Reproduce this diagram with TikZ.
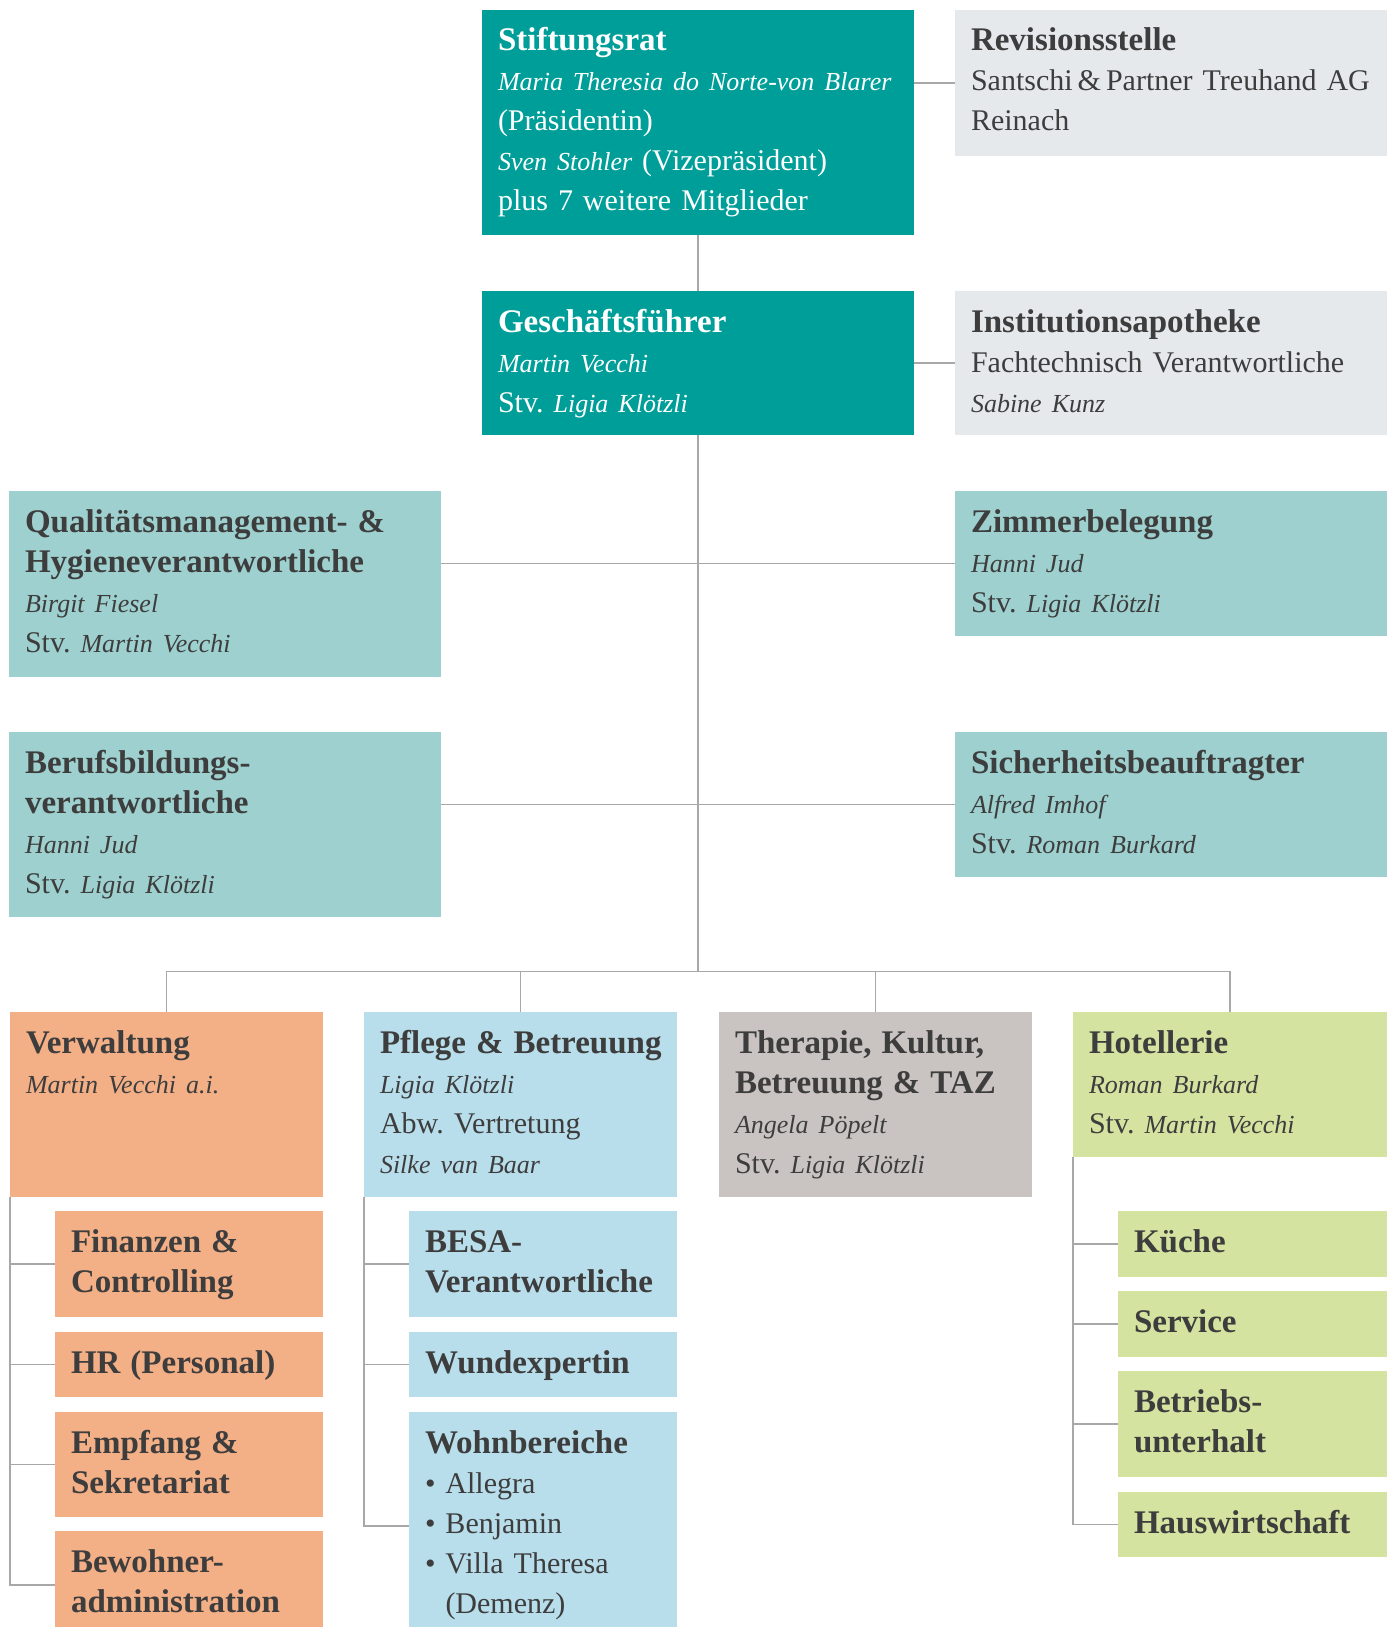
\documentclass[tikz,border=0pt]{standalone}
\usepackage{fontspec}
\setmainfont{Liberation Serif}[WordSpace=0.9]
\usepackage{tikz}

\definecolor{leitung}{HTML}{009E99}
\definecolor{extern}{HTML}{E5E9EC}
\definecolor{stab}{HTML}{9DD0CE}
\definecolor{verwcol}{HTML}{F3AF86}
\definecolor{pflcol}{HTML}{B8DDEB}
\definecolor{thercol}{HTML}{C9C4C1}
\definecolor{hotcol}{HTML}{D4E3A0}
\definecolor{ink}{HTML}{3D3D3D}
\definecolor{tiecol}{HTML}{A8A8A8}

\newcommand{\head}[1]{{\fontsize{33}{40}\selectfont\bfseries\mbox{#1}}}
\newcommand{\pers}[1]{{\fontsize{26}{40}\selectfont\itshape\mbox{#1}}}
\frenchspacing

\begin{document}
\begin{tikzpicture}
	[   x=1pt,y=-1pt,
		box/.style={anchor=north west,fill=#1,text=ink,inner xsep=16pt,inner ysep=0pt,outer sep=0pt,
			align=left,text height=41pt,font=\fontsize{30}{40}\selectfont},
	]
	\tikzset{tie line/.style={draw=tiecol,line width=1.5pt}}
	\useasboundingbox (0,0) rectangle (1395,1627);
	
	% Leitung
	\node[box=leitung,text=white,text width=400pt,text depth=184pt] (stift) at (482,10)
	{\head{Stiftungsrat}\\ \pers{Maria Theresia do Norte-von Blarer}\\ (Präsidentin)\\
		\pers{Sven Stohler} (Vizepräsident)\\ plus 7 weitere Mitglieder};
	\node[box=extern,text width=400pt,text depth=105pt] (rev) at (955,10)
	{\head{Revisionsstelle}\\ Santschi\,\&\,Partner Treuhand AG\\ Reinach};
	\node[box=leitung,text=white,text width=400pt,text depth=103pt] (gf) at (482,291)
	{\head{Geschäftsführer}\\ \pers{Martin Vecchi}\\ Stv. \pers{Ligia Klötzli}};
	\node[box=extern,text width=400pt,text depth=103pt] (apo) at (955,291)
	{\head{Institutionsapotheke}\\ Fachtechnisch Verantwortliche\\ \pers{Sabine Kunz}};
	
	% Stab
	\node[box=stab,text width=400pt,text depth=145pt] (qual) at (9,491)
	{\head{Qualitätsmanagement- \&}\\ \head{Hygieneverantwortliche}\\ \pers{Birgit Fiesel}\\ Stv. \pers{Martin Vecchi}};
	\node[box=stab,text width=400pt,text depth=104pt] (zim) at (955,491)
	{\head{Zimmerbelegung}\\ \pers{Hanni Jud}\\ Stv. \pers{Ligia Klötzli}};
	\node[box=stab,text width=400pt,text depth=144pt] (beruf) at (9,732)
	{\head{Berufsbildungs-}\\ \head{verantwortliche}\\ \pers{Hanni Jud}\\ Stv. \pers{Ligia Klötzli}};
	\node[box=stab,text width=400pt,text depth=104pt] (sich) at (955,732)
	{\head{Sicherheitsbeauftragter}\\ \pers{Alfred Imhof}\\ Stv. \pers{Roman Burkard}};
	
	% Bereiche
	\node[box=verwcol,text width=281pt,text depth=144pt] (verw) at (10,1012)
	{\head{Verwaltung}\\ \pers{Martin Vecchi a.i.}};
	\node[box=pflcol,text width=281pt,text depth=144pt] (pfl) at (364,1012)
	{\head{Pflege \& Betreuung}\\ \pers{Ligia Klötzli}\\ Abw. Vertretung\\ \pers{Silke van Baar}};
	\node[box=thercol,text width=281pt,text depth=144pt] (ther) at (719,1012)
	{\head{Therapie, Kultur,}\\ \head{Betreuung \& TAZ}\\ \pers{Angela Pöpelt}\\ Stv. \pers{Ligia Klötzli}};
	\node[box=hotcol,text width=282pt,text depth=104pt] (hotel) at (1073,1012)
	{\head{Hotellerie}\\ \pers{Roman Burkard}\\ Stv. \pers{Martin Vecchi}};
	
	% Verwaltung
	\node[box=verwcol,text width=236pt,text depth=65pt] (fin) at (55,1211) {\head{Finanzen \&}\\ \head{Controlling}};
	\node[box=verwcol,text width=236pt,text depth=24pt] (hr) at (55,1332) {\head{HR (Personal)}};
	\node[box=verwcol,text width=236pt,text depth=64pt] (emp) at (55,1412) {\head{Empfang \&}\\ \head{Sekretariat}};
	\node[box=verwcol,text width=236pt,text depth=67pt] (bew) at (55,1531) {\head{Bewohner-}\\ \head{administration}};
	
	% Pflege
	\node[box=pflcol,text width=236pt,text depth=65pt] (besa) at (409,1211) {\head{BESA-}\\ \head{Verantwortliche}};
	\node[box=pflcol,text width=236pt,text depth=24pt] (wund) at (409,1332) {\head{Wundexpertin}};
	\node[box=pflcol,text width=236pt,text depth=187pt] (wohn) at (409,1412)
	{\head{Wohnbereiche}\\ \textbullet\ Allegra\\ \textbullet\ Benjamin\\ \textbullet\ Villa Theresa\\ \phantom{\textbullet\ }(Demenz)};
	
	% Hotellerie
	\node[box=hotcol,text width=237pt,text depth=25pt] (kueche) at (1118,1211) {\head{Küche}};
	\node[box=hotcol,text width=237pt,text depth=25pt] (serv) at (1118,1291) {\head{Service}};
	\node[box=hotcol,text width=237pt,text depth=65pt] (betr) at (1118,1371) {\head{Betriebs-}\\ \head{unterhalt}};
	\node[box=hotcol,text width=237pt,text depth=24pt] (hausw) at (1118,1492) {\head{Hauswirtschaft}};
	
	\coordinate (bus) at (698,971.5);
	
	\path[tie line] (stift.south) -- (gf.north);
	\path[tie line] (rev.west) -- (stift.east |- rev.west);
	\path[tie line] (apo.west) -- (gf.east |- apo.west);
	\path[tie line] (qual.east |- zim.west) -- (zim.west);
	\path[tie line] (beruf.east |- sich.west) -- (sich.west);
	\path[tie line] (gf.south) -- (bus);
	
	\foreach \d in {verw,pfl,ther,hotel}
	{
		\path[tie line] (bus) -| (\d.north);
	}
	\foreach \s in {fin,hr,emp,bew}
	{
		\path[tie line] (verw.south west) |- (\s.west);
	}
	\foreach \s in {besa,wund,wohn}
	{
		\path[tie line] (pfl.south west) |- (\s.west);
	}
	\foreach \s in {kueche,serv,betr,hausw}
	{
		\path[tie line] (hotel.south west) |- (\s.west);
	}
\end{tikzpicture}
\end{document}
